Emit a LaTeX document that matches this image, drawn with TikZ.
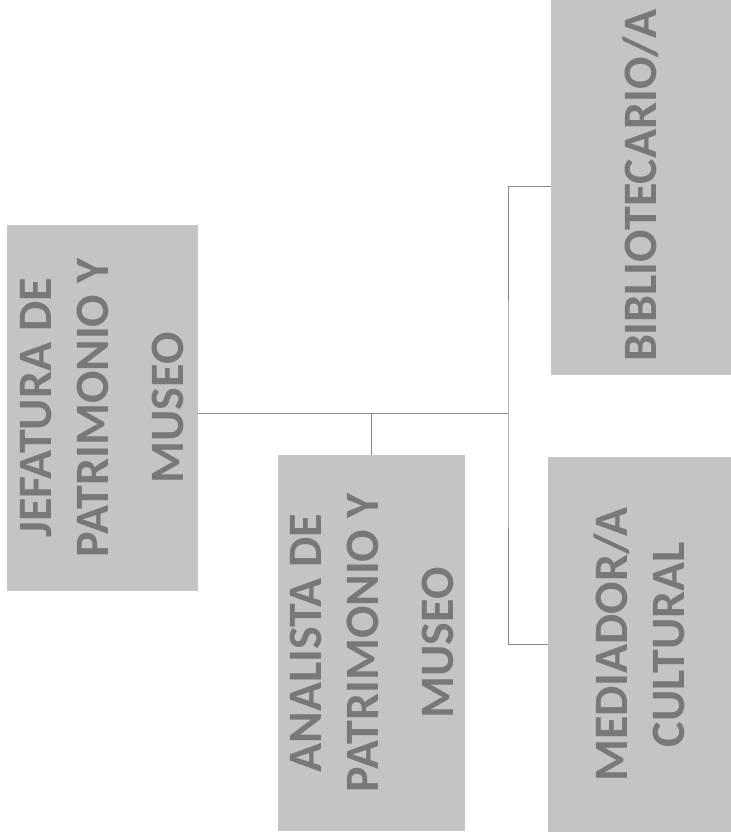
\documentclass[tikz,border=0pt]{standalone}
\usepackage{fontspec}
\setmainfont{Carlito}
\usetikzlibrary{positioning,calc}
\definecolor{cajagris}{RGB}{196,196,196}
\definecolor{textogris}{RGB}{120,120,120}
\definecolor{lineagris}{RGB}{135,135,135}
\tikzset{cargo/.style={rotate=90, fill=cajagris, text=textogris, inner sep=0pt, align=center,
        font=\fontsize{48}{57}\selectfont\bfseries},
    linea/.style={draw=lineagris, line width=1pt}}

\begin{document}
\begin{tikzpicture}[x=1pt, y=-1pt]
                        \useasboundingbox (0, 0) rectangle (731, 839);
                        \clip (0, 0) rectangle (731, 839);
                        \node[cargo, minimum width=366pt, minimum height=191pt] (jefe) at (102.5, 408) {JEFATURA DE\\PATRIMONIO Y\\[18pt]MUSEO};
                        \node[cargo, minimum width=376pt, minimum height=187pt] (analista) at (371.5, 643) {ANALISTA DE\\PATRIMONIO Y\\[18pt]MUSEO};
                        \node[cargo, minimum width=378pt, minimum height=180pt] (biblio) at (641, 186) {BIBLIOTECARIO/A};
                        \node[cargo, minimum width=375pt, minimum height=183pt] (mediador) at (639.5, 644.5) {MEDIADOR/A\\CULTURAL};

                        \coordinate (tronco) at (508, 413);
                        \draw[linea]
                        (jefe.south |- tronco) -- (tronco)
                        (analista.east) -- (analista.east |- tronco)
                        (biblio.north) -| (tronco) |- (mediador.north);
                    \end{tikzpicture}
\end{document}
